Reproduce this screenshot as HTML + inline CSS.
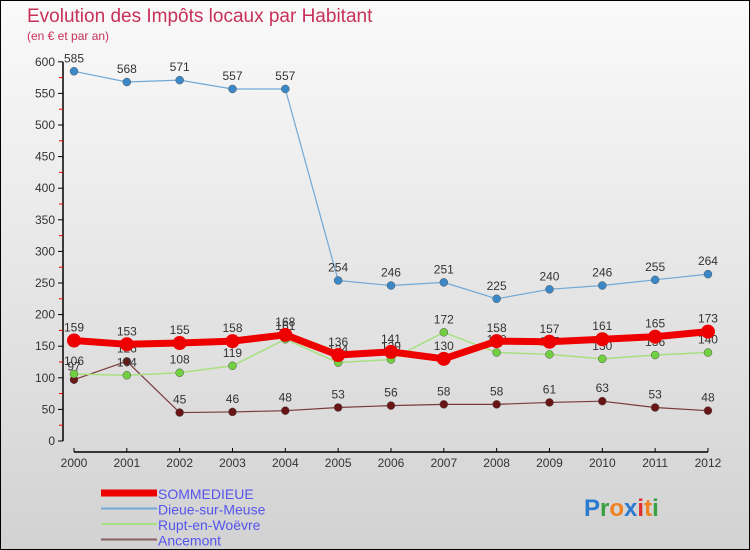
<!DOCTYPE html>
<html><head><meta charset="utf-8"><style>
body{margin:0}
#c{width:750px;height:550px;position:relative;box-sizing:border-box;border:1px solid #000;background:linear-gradient(#fafafa,#d2d2d2);font-family:"Liberation Sans",sans-serif;overflow:hidden}
svg text{font-family:"Liberation Sans",sans-serif}
</style></head><body>
<div id="c">
<svg id="s" width="750" height="550">
<text x="26" y="21" font-size="19" fill="#c8305a">Evolution des Impôts locaux par Habitant</text>
<text x="26" y="39" font-size="12" fill="#c8305a">(en € et par an)</text>
</svg>
</div>
<script>
const years=["2000","2001","2002","2003","2004","2005","2006","2007","2008","2009","2010","2011","2012"];
const yTicks=[0,50,100,150,200,250,300,350,400,450,500,550,600];
const sommedieue=[159,153,155,158,168,136,141,130,158,157,161,165,173];
const dieue=[585,568,571,557,557,254,246,251,225,240,246,255,264];
const rupt=[106,104,108,119,161,124,129,172,140,137,130,136,140];
const ancemont=[97,126,45,46,48,53,56,58,58,61,63,53,48];
const svg=document.getElementById('s');const NS='http://www.w3.org/2000/svg';
function X(i){return 73+i*52.83;}
function Y(v){return 440-v*0.632;}
function el(t,a,p){const e=document.createElementNS(NS,t);for(const k in a)e.setAttribute(k,a[k]);(p||svg).appendChild(e);return e;}
const ax=el('g',{});


el('line',{x1:62,y1:61,x2:62,y2:440,stroke:'#000','stroke-width':1.5},ax);
el('line',{x1:73,y1:451,x2:707,y2:451,stroke:'#000','stroke-width':1.5},ax);
yTicks.forEach((v,i)=>{
 el('line',{x1:57,y1:Y(v),x2:62,y2:Y(v),stroke:'#000'},ax);
 if(i<yTicks.length-1)el('line',{x1:58,y1:Y(v+25),x2:62,y2:Y(v+25),stroke:'#e00'},ax);
 const t=el('text',{x:54,y:Y(v)+4,'font-size':12,fill:'#333','text-anchor':'end'},ax);t.textContent=v;
 
 
});
years.forEach((y,i)=>{
 el('line',{x1:X(i),y1:447,x2:X(i),y2:451,stroke:'#000'},ax);
 const t=el('text',{x:X(i),y:466,'font-size':12,fill:'#333','text-anchor':'middle'},ax);t.textContent=y;
 
 
});
function series(name,data,color,lw,r,dot){
 const g=el('g',{});
 
 
 el('polyline',{points:data.map((v,i)=>X(i)+','+Y(v)).join(' '),fill:'none',stroke:color,'stroke-width':lw,'stroke-linejoin':'round'},g);
 data.forEach((v,i)=>{
  el('circle',{cx:X(i),cy:Y(v),r:r,fill:dot,stroke:color==='#e00'?'none':'#555','stroke-width':0.5},g);
  const t=el('text',{x:X(i),y:Y(v)-9,'font-size':12,fill:'#333','text-anchor':'middle'},g);t.textContent=v;
 });
}
series('series-ancemont',ancemont,'#7a3a3a',1.2,4,'#6a1515');
series('series-rupt',rupt,'#a8e080',1.5,4,'#70d040');
series('series-dieue',dieue,'#70a8d8',1.2,4,'#3a88c8');
series('series-sommedieue',sommedieue,'#e00',7,7,'#e00');
const lg=el('g',{});


[['SOMMEDIEUE','#e00',7],['Dieue-sur-Meuse','#70a8d8',2],['Rupt-en-Woëvre','#a8e080',2],['Ancemont','#8a6060',2]].forEach((d,i)=>{
 const y=492+i*15.5;
 el('line',{x1:100,y1:y,x2:156,y2:y,stroke:d[1],'stroke-width':d[2]},lg);
 const t=el('text',{x:157,y:y+6,'font-size':14,fill:'#5555ee'},lg);t.textContent=d[0];
 
 
});
const lo=el('text',{x:583,y:515,'font-size':24,'font-weight':'bold'});


lo.innerHTML='<tspan fill="#2a7ad0">P</tspan><tspan fill="#3aa040">r</tspan><tspan fill="#f08020">o</tspan><tspan fill="#2a7ad0">x</tspan><tspan fill="#e03030">i</tspan><tspan fill="#f08020">t</tspan><tspan fill="#3aa040">i</tspan>';
</script>
</body></html>
